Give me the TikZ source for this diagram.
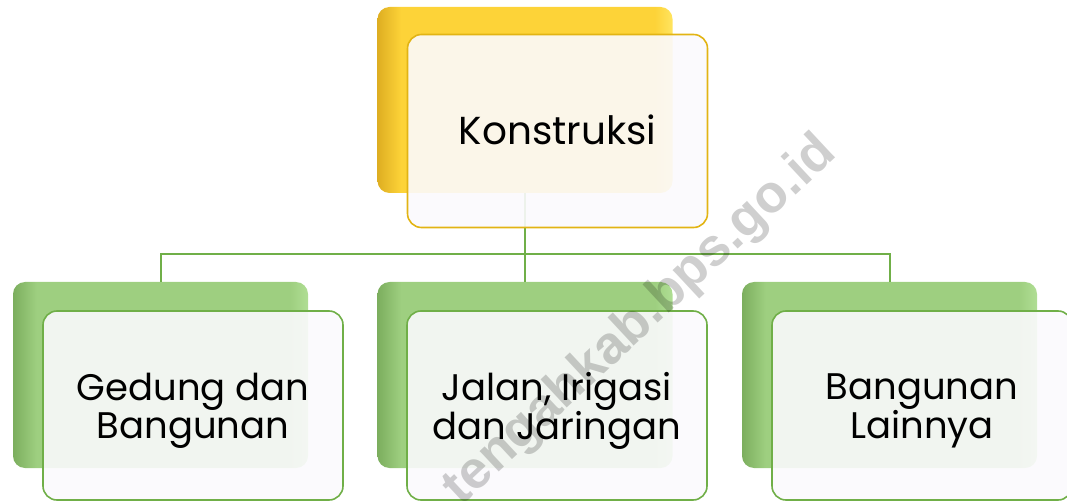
\documentclass[tikz,border=0pt]{standalone}
\usepackage{fontspec}
\setmainfont{Poppins}
\newfontfamily\wmfont{Liberation Sans}
\definecolor{ydark}{RGB}{222,174,34}
\definecolor{ymid}{RGB}{253,211,56}
\definecolor{ylight}{RGB}{255,228,96}
\definecolor{yborder}{RGB}{226,180,20}
\definecolor{gdark}{RGB}{124,174,94}
\definecolor{gmid}{RGB}{158,207,128}
\definecolor{glight}{RGB}{176,222,148}
\definecolor{gborder}{RGB}{112,175,72}
\definecolor{linkgreen}{RGB}{112,175,72}
\definecolor{frontfill}{RGB}{251,250,253}
\pgfdeclarehorizontalshading{yshade}{100bp}{color(0bp)=(ydark); color(25bp)=(ydark); color(29bp)=(ymid); color(72bp)=(ymid); color(75bp)=(ylight); color(100bp)=(ylight)}
\pgfdeclarehorizontalshading{gshade}{100bp}{color(0bp)=(gdark); color(25bp)=(gdark); color(29bp)=(gmid); color(72bp)=(gmid); color(75bp)=(glight); color(100bp)=(glight)}
\begin{document}
\begin{tikzpicture}[x=1pt,y=-1pt,
  shadowbox/.style={rounded corners=12pt, minimum width=295pt, minimum height=186pt, inner sep=0pt, outer sep=0pt},
  ybox/.style={shadowbox, shading=yshade},
  gbox/.style={shadowbox, shading=gshade},
  frontbox/.style={rounded corners=14pt, minimum width=300pt, inner sep=0pt, outer sep=0pt, fill=frontfill, fill opacity=0.9, line width=1.6pt},
  yfront/.style={frontbox, minimum height=193pt, draw=yborder},
  gfront/.style={frontbox, minimum height=189pt, draw=gborder},
  ytext/.style={align=center, text=black, inner sep=0pt, font=\fontsize{39}{46}\selectfont},
  gtext/.style={align=center, text=black, inner sep=0pt, font=\fontsize{37}{38}\selectfont},
  link/.style={draw=linkgreen, line width=2pt},
  wm/.style={font=\wmfont\bfseries\fontsize{53}{53}\selectfont, text=black, text opacity=0.19, inner sep=0pt}]
\useasboundingbox (0,0) rectangle (1067,502);
% shadow (back) boxes
\node[ybox] (ys) at (525,100) {};
\node[gbox] (g0) at (160.5,375) {};
\node[gbox] (g1) at (525,375) {};
\node[gbox] (g2) at (889.5,375) {};
% connectors
\coordinate (hub) at (525,254);
\draw[link] (ys.south) -- (hub);
\draw[link] (hub) -| (g0.north);
\draw[link] (hub) -- (g1.north);
\draw[link] (hub) -| (g2.north);
% front boxes
\node[yfront] (top) at (557.5,131) {};
\node[gfront] (f0) at (193,405.5) {};
\node[gfront] (f1) at (557,405.5) {};
\node[gfront] (f2) at (922,405.5) {};
% texts
\node[ytext] (ttop) at ([yshift=1pt]top.center) {Konstruksi};
\node[gtext] (t0) at ([yshift=-5pt]f0.center) {Gedung dan\\Bangunan};
\node[gtext] (t1) at ([yshift=-5pt]f1.center) {Jalan, Irigasi\\dan Jaringan};
\node[gtext] (t2) at ([yshift=-5pt]f2.center) {Bangunan\\Lainnya};
% watermark
\node[wm, rotate=43, anchor=base] (mark) at (650,331) {tengahkab.bps.go.id};
\end{tikzpicture}
\end{document}
